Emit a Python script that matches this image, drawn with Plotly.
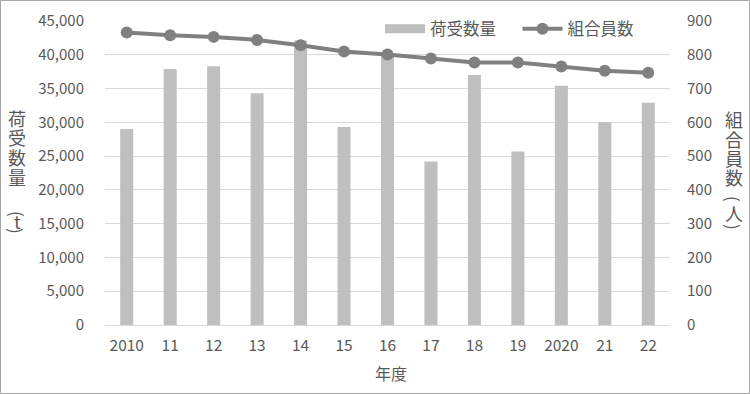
import plotly.graph_objects as go

years = ["2010", "11", "12", "13", "14", "15", "16", "17", "18", "19", "2020", "21", "22"]
volume_t = [29000, 37900, 38300, 34300, 42100, 29300, 40300, 24200, 37000, 25700, 35400, 30000, 32900]
members = [866, 858, 853, 844, 828, 810, 801, 789, 777, 777, 765, 753, 747]

left_ticks = [0, 5000, 10000, 15000, 20000, 25000, 30000, 35000, 40000, 45000]
right_ticks = [0, 100, 200, 300, 400, 500, 600, 700, 800, 900]

FONT = "Noto Sans CJK JP"
TXT = "#595959"
BAR = "#bfbfbf"
LINE = "#808080"

W, H = 750, 394
L, R, T, B = 105, 80, 21, 69
pw, ph = W - L - R, H - T - B


def px_x(x):
    return (x - L) / pw


def px_y(y):
    return 1 - (y - T) / ph


fig = go.Figure()
fig.add_trace(go.Bar(x=years, y=volume_t, name="荷受数量", marker_color=BAR,
                     marker_line_width=0, yaxis="y", showlegend=False))
# legend-only entry to give the bar series a wide swatch
fig.add_trace(go.Scatter(x=[None], y=[None], name="荷受数量　", mode="lines",
                         line=dict(color=BAR, width=9), yaxis="y"))
fig.add_trace(go.Scatter(x=years, y=members, name="組合員数", mode="lines+markers",
                         line=dict(color=LINE, width=4),
                         marker=dict(color=LINE, size=12), yaxis="y2"))

annotations = [
    dict(text="年度", xref="paper", yref="paper", x=px_x(391), y=px_y(372.5),
         showarrow=False, font=dict(size=16, color=TXT), xanchor="center", yanchor="middle"),
]


def add_vertical(chars, xc):
    for ch, yc, rot in chars:
        annotations.append(dict(text=ch, xref="paper", yref="paper", x=px_x(xc), y=px_y(yc),
                                showarrow=False, textangle=rot,
                                font=dict(size=18 if rot == 0 else 17, color=TXT),
                                xanchor="center", yanchor="middle"))


add_vertical([("荷", 118, 0), ("受", 137, 0), ("数", 157, 0), ("量", 177, 0),
              ("(", 214, 90), ("t", 221, 0), (")", 231, 90)], 17)
add_vertical([("組", 119, 0), ("合", 139, 0), ("員", 158, 0), ("数", 177, 0),
              ("(", 199, 90), ("人", 213, 0), (")", 227, 90)], 734)

fig.update_layout(
    width=W, height=H,
    margin=dict(l=L, r=R, t=T, b=B, autoexpand=False),
    paper_bgcolor="white", plot_bgcolor="white",
    font=dict(family=FONT, size=15, color=TXT),
    bargap=0.7,
    showlegend=True,
    legend=dict(orientation="h", x=px_x(380), y=px_y(29), xanchor="left", yanchor="middle",
                bgcolor="rgba(0,0,0,0)", font=dict(size=16.5, color=TXT),
                traceorder="normal", itemwidth=40, tracegroupgap=0),
    xaxis=dict(type="category", range=[-0.5, len(years) - 0.5], showgrid=False,
               showline=True, linecolor="#d9d9d9",
               ticks="", tickfont=dict(size=15.5, color=TXT), automargin=False,
               ticklabelstandoff=6),
    yaxis=dict(range=[0, 45000], tickvals=left_ticks, tickformat=",", showgrid=True,
               gridcolor="#d9d9d9", zeroline=False, ticks="", ticklabelstandoff=20,
               tickfont=dict(size=15, color=TXT), automargin=False),
    yaxis2=dict(range=[0, 900], tickvals=right_ticks, overlaying="y", side="right",
                showgrid=False, zeroline=False, ticks="", ticklabelstandoff=16,
                tickfont=dict(size=15, color=TXT), automargin=False),
    annotations=annotations,
    shapes=[dict(type="rect", xref="paper", yref="paper",
                 x0=px_x(0.5), x1=px_x(W - 0.5),
                 y0=px_y(H - 0.5), y1=px_y(0.5),
                 line=dict(color="#a6a6a6", width=1))],
)

fig.write_html("out.html", config={"displayModeBar": False},
               post_script="document.body.style.margin='0';document.body.style.overflow='hidden';")
